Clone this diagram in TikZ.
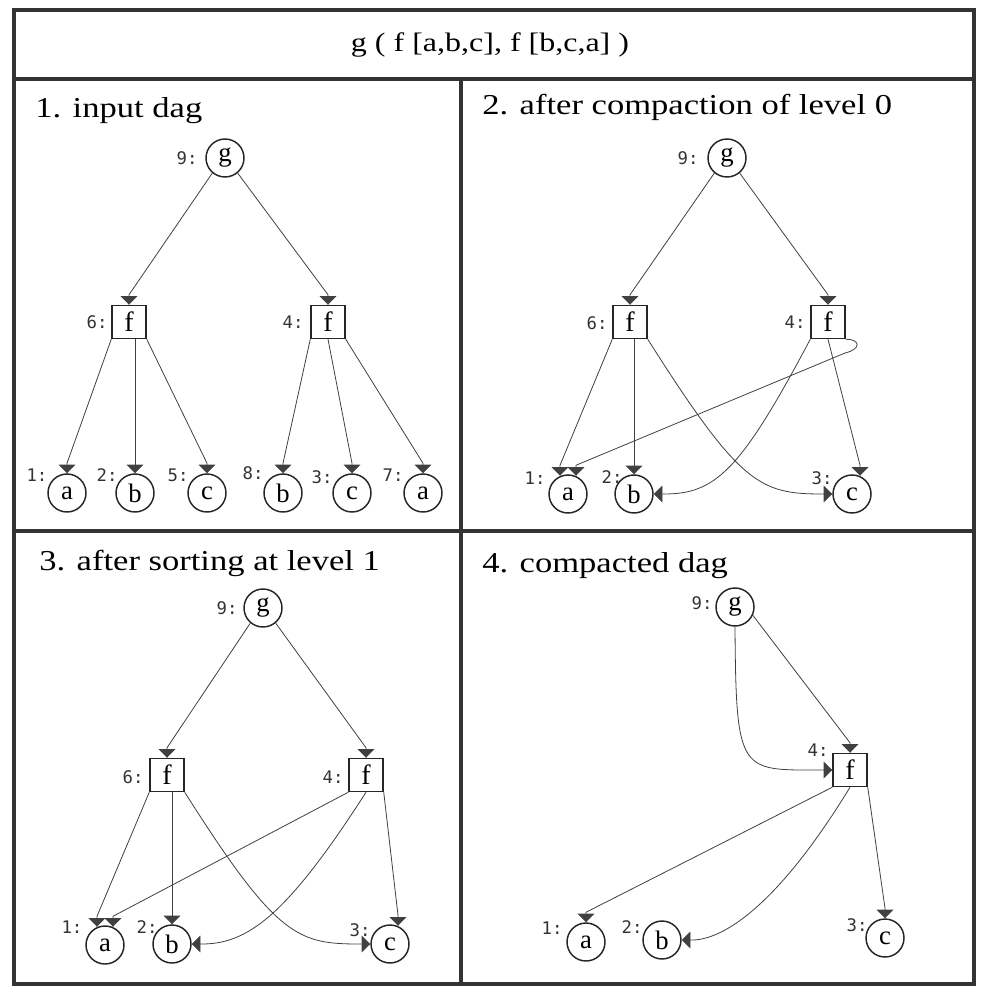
\documentclass[tikz,border=0pt]{standalone}
\usepackage{fontspec}
\setmainfont{Liberation Serif}
\newfontfamily\titlefont[FakeStretch=1.2]{Liberation Serif}
\newfontfamily\numfont{DejaVu Sans Mono}
\usetikzlibrary{arrows.meta,calc}
\begin{document}
\begin{tikzpicture}[x=0.75pt,y=-0.75pt,
  frame/.style={line width=2.3pt, draw=black!80},
  vert/.style={circle, draw=black!85, line width=1.1pt, minimum size=28.5pt, inner sep=0pt, font=\fontsize{20}{20}\selectfont},
  fbox/.style={rectangle, draw=black!85, line width=1.1pt, minimum width=25.5pt, minimum height=24.75pt, inner sep=0pt, font=\fontsize{21}{21}\selectfont},
  lbl/.style={inner sep=0pt, font=\numfont\fontsize{13}{13}\selectfont, text=black!80},
  head/.style={inner sep=0pt, anchor=base west, font=\titlefont\fontsize{21.6}{22}\selectfont},
  edge/.style={draw=black!75, line width=0.6pt, -{Triangle[width=12.5pt,length=6.5pt]}},
  dn/.style={to path={-- ($(\tikztotarget)+(0,-10)$) -- (\tikztotarget)}},
]
\useasboundingbox (0,0) rectangle (980,987);
% frame
\draw[frame] (14,10) rectangle (974,984);
\draw[frame] (14,79) -- (974,79);
\draw[frame] (461,79) -- (461,984);
\draw[frame] (14,531) -- (974,531);
\node[inner sep=0pt, anchor=base, font=\titlefont\fontsize{20}{20}\selectfont] (title) at (490,52) {g ( f [a,b,c], f [b,c,a] )};

% ---------- panel 1 ----------
\node[head] (h1) at (35,118) {1. input dag};
\node[vert] (p1g) at (225,158) {g};
\node[fbox] (p1f6) at (129,322) {f};
\node[fbox] (p1f4) at (328,322) {f};
\node[vert] (p1a1) at (67,493) {a};
\node[vert] (p1b2) at (135,493) {b};
\node[vert] (p1c5) at (207,493) {c};
\node[vert] (p1b8) at (283,493) {b};
\node[vert] (p1c3) at (352,493) {c};
\node[vert] (p1a7) at (423,493) {a};
\node[lbl] (p1lg) at (187,158) {9:};
\node[lbl] (p1l6) at (97,322) {6:};
\node[lbl] (p1l4) at (293,322) {4:};
\node[lbl] (p1l1) at (37,475) {1:};
\node[lbl] (p1l2) at (107,475) {2:};
\node[lbl] (p1l5) at (178,475) {5:};
\node[lbl] (p1l8) at (253,473) {8:};
\node[lbl] (p1l3) at (322,477) {3:};
\node[lbl] (p1l7) at (393,475) {7:};
\draw[edge] (p1g.-130) to[dn] (p1f6.north);
\draw[edge] (p1g.-50) to[dn] (p1f4.north);
\draw[edge] (p1f6.south west) to[dn] (p1a1.north);
\draw[edge] (p1b2.north |- p1f6.south) -- (p1b2.north);
\draw[edge] (p1f6.south east) to[dn] (p1c5.north);
\draw[edge] (p1f4.south west) to[dn] (p1b8.north);
\draw[edge] (p1f4.south) to[dn] (p1c3.north);
\draw[edge] (p1f4.south east) to[dn] (p1a7.north);

% ---------- panel 2 ----------
\node[head] (h2) at (482,115) {2. after compaction of level 0};
\node[vert] (p2g) at (727,158) {g};
\node[fbox] (p2f6) at (630,322) {f};
\node[fbox] (p2f4) at (828,322) {f};
\node[vert] (p2a1) at (568,494) {a};
\node[vert] (p2b2) at (634,494) {b};
\node[vert] (p2c3) at (852,494) {c};
\node[lbl] (p2lg) at (688,158) {9:};
\node[lbl] (p2l6) at (597,323) {6:};
\node[lbl] (p2l4) at (795,322) {4:};
\node[lbl] (p2l1) at (535,478) {1:};
\node[lbl] (p2l2) at (612,477) {2:};
\node[lbl] (p2l3) at (822,478) {3:};
\draw[edge] (p2g.-130) to[dn] (p2f6.north);
\draw[edge] (p2g.-50) to[dn] (p2f4.north);
\draw[edge] (p2f6.south west) -- ($(p2a1.north)+(-8,-9)$) -- ($(p2a1.north)+(-8,1.5)$);
\draw[edge] (p2f4.south east) .. controls (860,339) and (862,349) .. (845,353)
  -- ($(p2a1.north)+(8,-9)$) -- ($(p2a1.north)+(8,1.5)$);
\draw[edge] (p2b2.north |- p2f6.south) -- (p2b2.north);
\draw[edge] (p2f6.south east) .. controls (740,485) and (760,494) .. ($(p2c3.west)+(-10,0)$) -- (p2c3.west);
\draw[edge] (p2f4.south west) .. controls (740,472) and (715,494) .. ($(p2b2.east)+(10,0)$) -- (p2b2.east);
\draw[edge] (p2f4.south) -- ($(p2c3.north)+(8,-9)$) -- ($(p2c3.north)+(8,1.5)$);

% ---------- panel 3 ----------
\node[head] (h3) at (39,570) {3. after sorting at level 1};
\node[vert] (p3g) at (263,608) {g};
\node[fbox] (p3f6) at (167,775) {f};
\node[fbox] (p3f4) at (366,775) {f};
\node[vert] (p3a1) at (105,945) {a};
\node[vert] (p3b2) at (172,944) {b};
\node[vert] (p3c3) at (390,944) {c};
\node[lbl] (p3lg) at (227,608) {9:};
\node[lbl] (p3l6) at (133,777) {6:};
\node[lbl] (p3l4) at (333,777) {4:};
\node[lbl] (p3l1) at (72,927) {1:};
\node[lbl] (p3l2) at (147,927) {2:};
\node[lbl] (p3l3) at (360,930) {3:};
\draw[edge] (p3g.-130) to[dn] (p3f6.north);
\draw[edge] (p3g.-50) to[dn] (p3f4.north);
\draw[edge] (p3f6.south west) -- ($(p3a1.north)+(-8,-9)$) -- ($(p3a1.north)+(-8,1.5)$);
\draw[edge] (p3f4.south west) -- ($(p3a1.north)+(8,-9)$) -- ($(p3a1.north)+(8,1.5)$);
\draw[edge] (p3b2.north |- p3f6.south) -- (p3b2.north);
\draw[edge] (p3f6.south east) .. controls (277,938) and (298,944) .. ($(p3c3.west)+(-10,0)$) -- (p3c3.west);
\draw[edge] (p3f4.south) .. controls (286,917) and (247,944) .. ($(p3b2.east)+(10,0)$) -- (p3b2.east);
\draw[edge] (p3f4.south east) -- ($(p3c3.north)+(8,-9)$) -- ($(p3c3.north)+(8,1.5)$);

% ---------- panel 4 ----------
\node[head] (h4) at (482,572) {4. compacted dag};
\node[vert] (p4g) at (735,607) {g};
\node[fbox] (p4f4) at (850,770) {f};
\node[vert] (p4a1) at (586,942) {a};
\node[vert] (p4b2) at (662,940) {b};
\node[vert] (p4c3) at (885,938) {c};
\node[lbl] (p4lg) at (702,603) {9:};
\node[lbl] (p4l4) at (818,750) {4:};
\node[lbl] (p4l1) at (552,928) {1:};
\node[lbl] (p4l2) at (632,927) {2:};
\node[lbl] (p4l3) at (857,925) {3:};
\draw[edge] (p4g.-25) to[dn] (p4f4.north);
\draw[edge] (p4g.south) .. controls (736,775) and (740,770) .. ($(p4f4.west)+(-10,0)$) -- (p4f4.west);
\draw[edge] (p4f4.south west) to[dn] (p4a1.north);
\draw[edge] (p4f4.south) .. controls (780,902) and (725,940) .. ($(p4b2.east)+(10,0)$) -- (p4b2.east);
\draw[edge] (p4f4.south east) to[dn] (p4c3.north);
\end{tikzpicture}
\end{document}
